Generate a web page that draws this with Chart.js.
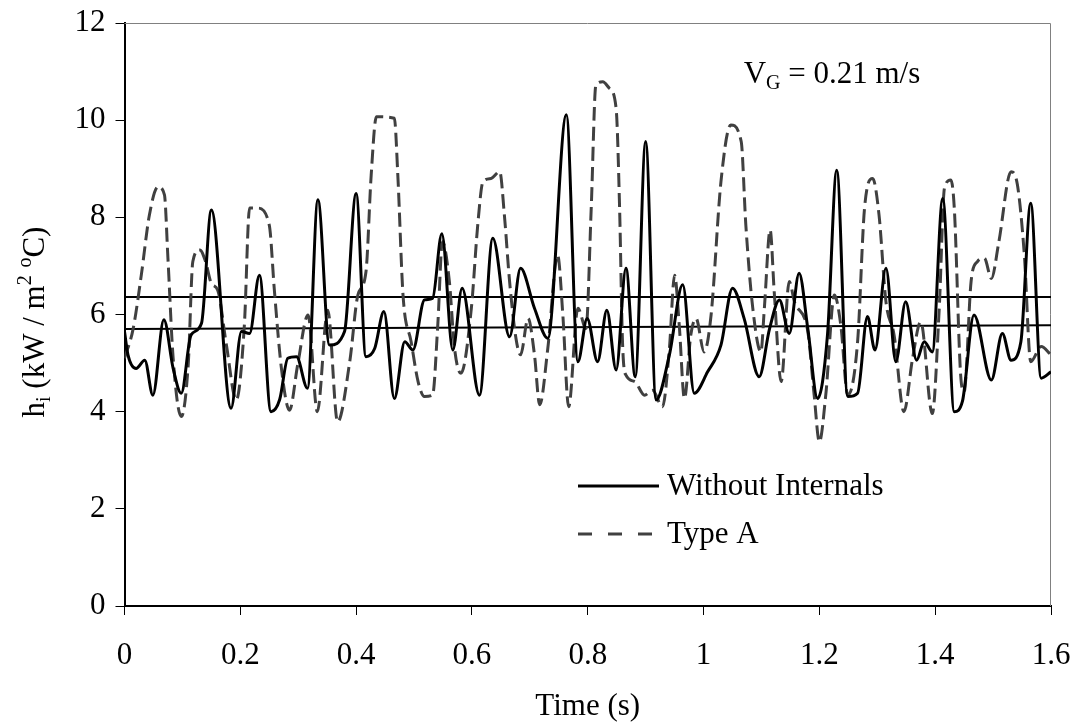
<!DOCTYPE html>
<html>
<head>
<meta charset="utf-8">
<script src="https://cdn.jsdelivr.net/npm/chart.js@4.4.1/dist/chart.umd.min.js"></script>
<style>
  body { margin: 0; background: #fff; }
  canvas { display: block; }
</style>
</head>
<body>
<canvas id="chart" width="1078" height="727"></canvas>
<script>
const FONT = '"Liberation Serif", "Times New Roman", serif';

const seriesNames = ["Without Internals", "Type A"];
const xTickLabels = ["0", "0.2", "0.4", "0.6", "0.8", "1", "1.2", "1.4", "1.6"];
const yTickLabels = ["0", "2", "4", "6", "8", "10", "12"];

// Without Internals (solid)
const timeWithout = [
  0.000, 0.006, 0.020, 0.035, 0.049, 0.068, 0.084, 0.098, 0.115, 0.133,
  0.150, 0.184, 0.202, 0.216, 0.233, 0.253, 0.268, 0.282, 0.297, 0.316,
  0.334, 0.354, 0.380, 0.400, 0.417, 0.432, 0.448, 0.466, 0.484, 0.498,
  0.518, 0.532, 0.548, 0.567, 0.583, 0.613, 0.636, 0.665, 0.684, 0.708,
  0.731, 0.763, 0.783, 0.799, 0.817, 0.833, 0.849, 0.866, 0.882, 0.900,
  0.918, 0.941, 0.964, 0.984, 1.007, 1.030, 1.050, 1.070, 1.096, 1.114,
  1.131, 1.148, 1.165, 1.180, 1.197, 1.214, 1.230, 1.249, 1.266, 1.283,
  1.296, 1.315, 1.332, 1.349, 1.368, 1.381, 1.395, 1.413, 1.433, 1.447,
  1.467, 1.497, 1.516, 1.531, 1.548, 1.565, 1.583, 1.600
];
const hWithout = [
  5.65, 5.17, 4.89, 5.06, 4.34, 5.89, 4.89, 4.38, 5.58, 5.82,
  8.15, 4.07, 5.65, 5.61, 6.81, 4.00, 4.25, 5.10, 5.13, 4.48,
  8.36, 5.37, 5.65, 8.49, 5.13, 5.30, 6.06, 4.27, 5.44, 5.27,
  6.30, 6.33, 7.66, 5.27, 6.54, 4.34, 7.57, 5.54, 6.95, 6.13,
  5.51, 10.11, 5.03, 5.92, 5.03, 6.09, 4.86, 6.95, 4.72, 9.56,
  4.24, 5.17, 6.61, 4.38, 4.82, 5.37, 6.54, 5.92, 4.72, 5.71,
  6.30, 5.61, 6.85, 5.71, 4.27, 5.58, 8.97, 4.31, 4.38, 5.96,
  5.27, 6.95, 5.03, 6.26, 5.06, 5.44, 5.23, 8.39, 4.00, 4.21,
  5.99, 4.65, 5.61, 5.06, 5.44, 8.29, 4.69, 4.82
];

// Type A (dashed)
const timeTypeA = [
  0.000, 0.015, 0.029, 0.043, 0.058, 0.069, 0.075, 0.084, 0.098, 0.110,
  0.118, 0.130, 0.140, 0.150, 0.161, 0.176, 0.193, 0.207, 0.216, 0.230,
  0.250, 0.259, 0.271, 0.285, 0.299, 0.317, 0.333, 0.351, 0.368, 0.389,
  0.403, 0.417, 0.426, 0.435, 0.466, 0.472, 0.481, 0.495, 0.507, 0.518,
  0.532, 0.541, 0.549, 0.561, 0.570, 0.581, 0.599, 0.610, 0.619, 0.633,
  0.648, 0.656, 0.665, 0.676, 0.684, 0.697, 0.708, 0.717, 0.731, 0.748,
  0.757, 0.767, 0.783, 0.797, 0.806, 0.814, 0.826, 0.837, 0.849, 0.855,
  0.860, 0.866, 0.881, 0.898, 0.912, 0.929, 0.941, 0.950, 0.958, 0.967,
  0.978, 0.987, 1.001, 1.013, 1.030, 1.047, 1.065, 1.073, 1.085, 1.099,
  1.105, 1.115, 1.122, 1.134, 1.148, 1.157, 1.180, 1.191, 1.200, 1.211,
  1.226, 1.237, 1.249, 1.266, 1.278, 1.292, 1.303, 1.315, 1.329, 1.346,
  1.361, 1.375, 1.395, 1.407, 1.416, 1.427, 1.433, 1.444, 1.450, 1.462,
  1.473, 1.485, 1.497, 1.510, 1.531, 1.542, 1.554, 1.565, 1.583, 1.600
];
const hTypeA = [
  5.10, 5.71, 6.81, 8.05, 8.63, 8.46, 7.16, 5.10, 3.90, 4.96,
  7.09, 7.33, 7.09, 6.64, 6.50, 5.37, 4.24, 5.78, 8.19, 8.19,
  7.84, 6.47, 4.89, 4.03, 4.96, 5.99, 4.00, 6.09, 3.79, 5.03,
  6.40, 6.88, 8.87, 10.07, 10.04, 8.87, 6.40, 5.44, 4.62, 4.31,
  4.34, 5.78, 7.50, 6.68, 5.30, 4.79, 6.13, 7.84, 8.73, 8.80,
  8.94, 8.05, 6.68, 5.51, 5.17, 5.92, 5.17, 4.14, 5.30, 7.22,
  5.99, 4.10, 6.13, 5.71, 8.19, 10.72, 10.79, 10.66, 10.24, 8.19,
  5.44, 4.75, 4.62, 4.34, 4.44, 4.10, 5.30, 6.81, 5.78, 4.27,
  5.58, 5.92, 5.23, 5.99, 8.73, 9.90, 9.56, 7.84, 6.13, 5.23,
  6.13, 7.74, 6.47, 4.62, 6.68, 6.26, 5.65, 4.34, 3.38, 4.34,
  6.40, 5.78, 4.34, 5.44, 8.19, 8.80, 8.05, 6.26, 5.58, 4.00,
  5.10, 5.85, 3.96, 6.13, 8.60, 8.77, 8.19, 4.75, 4.41, 6.68,
  7.09, 7.16, 6.74, 7.50, 8.94, 8.67, 7.22, 5.03, 5.34, 5.17
];

// the two straight lines across the plot
const lineTime = [0, 1.6];
const lineUpper = [6.36, 6.36];
const lineLower = [5.70, 5.78];

const toPoints = (xs, ys) => xs.map((x, i) => ({ x: x, y: ys[i] }));

function drawRich(ctx, parts, x, y) {
  let w = 0;
  parts.forEach(p => {
    ctx.font = p.size + "px " + FONT;
    p.w = ctx.measureText(p.text).width;
    w += p.w;
  });
  let cx = x - w / 2;
  parts.forEach(p => {
    ctx.font = p.size + "px " + FONT;
    ctx.fillText(p.text, cx, y + (p.dy || 0));
    cx += p.w;
  });
}

// no automatic label padding, so the plot box stays where the layout puts it
function noPad(s) {
  s.paddingLeft = 0;
  s.paddingRight = 0;
  s.paddingTop = 0;
  s.paddingBottom = 0;
}

const decor = {
  id: "decor",
  beforeDatasetsDraw(chart) {
    const { ctx, chartArea: a } = chart;
    ctx.save();
    ctx.strokeStyle = "#808080";
    ctx.lineWidth = 1;
    ctx.beginPath();
    ctx.moveTo(a.left, a.top + 0.5);
    ctx.lineTo(a.right - 0.5, a.top + 0.5);
    ctx.lineTo(a.right - 0.5, a.bottom);
    ctx.stroke();
    ctx.restore();
  },
  afterDraw(chart) {
    const ctx = chart.ctx;
    ctx.save();
    ctx.fillStyle = "#000";
    ctx.textAlign = "left";
    ctx.textBaseline = "alphabetic";

    // y axis title, rotated
    ctx.save();
    ctx.translate(44, 322);
    ctx.rotate(-Math.PI / 2);
    drawRich(ctx, [
      { text: "h", size: 31 },
      { text: "i", size: 20, dy: 6 },
      { text: " (kW / m", size: 31 },
      { text: "2", size: 20, dy: -13 },
      { text: " ", size: 31 },
      { text: "o", size: 20, dy: -13 },
      { text: "C)", size: 31 }
    ], 0, 0);
    ctx.restore();

    // gas velocity note
    drawRich(ctx, [
      { text: "V", size: 31 },
      { text: "G", size: 20, dy: 6 },
      { text: " = 0.21 m/s", size: 31 }
    ], 832, 83);

    // legend
    const styles = chart.data.datasets.slice(0, 2);
    const rows = [486, 534];
    styles.forEach((ds, i) => {
      ctx.save();
      ctx.strokeStyle = ds.borderColor;
      ctx.lineWidth = ds.borderWidth;
      ctx.setLineDash(i === 0 ? [] : [14, 16]);
      ctx.beginPath();
      ctx.moveTo(578, rows[i]);
      ctx.lineTo(659, rows[i]);
      ctx.stroke();
      ctx.restore();
      ctx.font = "31px " + FONT;
      ctx.textBaseline = "middle";
      ctx.fillText(ds.label, 667, rows[i] + 1);
    });
    ctx.restore();
  }
};

new Chart(document.getElementById("chart"), {
  type: "line",
  data: {
    datasets: [
      {
        label: seriesNames[0],
        data: toPoints(timeWithout, hWithout),
        borderColor: "#000",
        borderWidth: 3,
        pointRadius: 0,
        cubicInterpolationMode: "monotone"
      },
      {
        label: seriesNames[1],
        data: toPoints(timeTypeA, hTypeA),
        borderColor: "#404040",
        borderWidth: 3,
        borderDash: [14, 6],
        pointRadius: 0,
        cubicInterpolationMode: "monotone"
      },
      {
        label: "mean upper",
        data: toPoints(lineTime, lineUpper),
        borderColor: "#000",
        borderWidth: 2,
        pointRadius: 0
      },
      {
        label: "mean lower",
        data: toPoints(lineTime, lineLower),
        borderColor: "#000",
        borderWidth: 2,
        pointRadius: 0
      }
    ]
  },
  options: {
    responsive: false,
    animation: false,
    devicePixelRatio: 1,
    layout: { padding: { left: 0, top: 23, right: 27, bottom: 0 } },
    plugins: {
      legend: { display: false },
      tooltip: { enabled: false }
    },
    scales: {
      x: {
        type: "linear",
        min: 0,
        max: 1.6,
        afterBuildTicks: (s) => { s.ticks = xTickLabels.map(v => ({ value: parseFloat(v) })); },
        afterFit: (s) => { s.height = 121; noPad(s); },
        ticks: {
          callback: (v, i) => xTickLabels[i],
          color: "#000",
          font: { family: FONT, size: 31 },
          padding: 22,
          maxRotation: 0
        },
        grid: { drawOnChartArea: false, drawTicks: true, tickLength: 9, color: "#000", tickWidth: 1 },
        border: { display: true, color: "#000", width: 2 },
        title: {
          display: true,
          text: "Time (s)",
          color: "#000",
          font: { family: FONT, size: 31 },
          padding: { top: 0, bottom: 2 }
        }
      },
      y: {
        min: 0,
        max: 12,
        afterBuildTicks: (s) => { s.ticks = yTickLabels.map(v => ({ value: parseFloat(v) })); },
        afterFit: (s) => { s.width = 124.5; noPad(s); },
        ticks: {
          callback: (v, i) => yTickLabels[i],
          color: "#000",
          font: { family: FONT, size: 31 },
          padding: 10
        },
        grid: { drawOnChartArea: false, drawTicks: true, tickLength: 9, color: "#000", tickWidth: 1 },
        border: { display: true, color: "#000", width: 2 }
      }
    }
  },
  plugins: [decor]
});
</script>
</body>
</html>
